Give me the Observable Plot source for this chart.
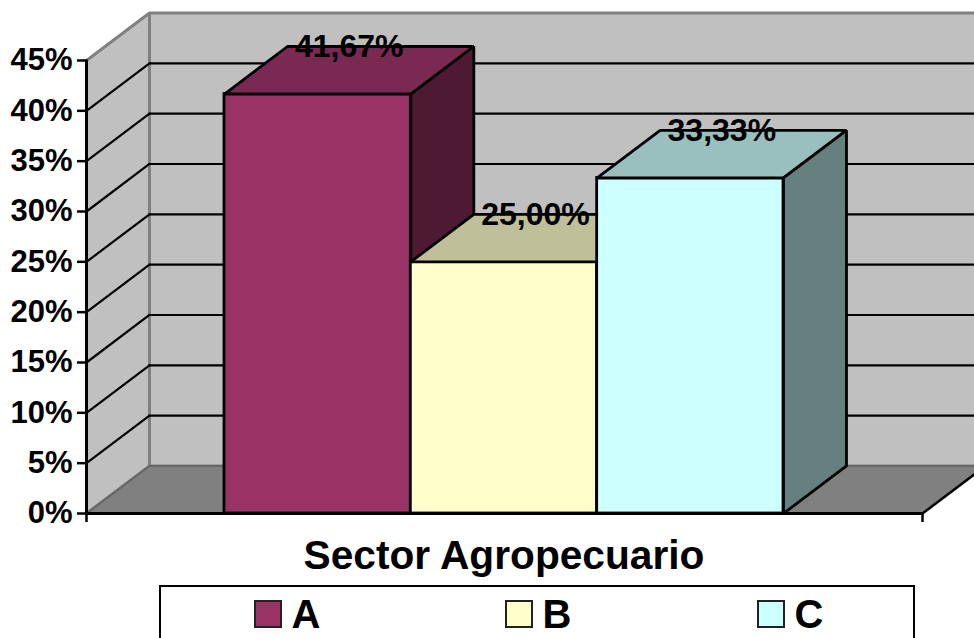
<!DOCTYPE html>
<html>
<head>
<meta charset="utf-8">
<script src="https://cdn.jsdelivr.net/npm/d3@7"></script>
<script src="https://cdn.jsdelivr.net/npm/@observablehq/plot@0.6"></script>
<style>
html,body{margin:0;padding:0;background:#fff;overflow:hidden}
body{width:974px;height:638px;position:relative;font-family:"Liberation Sans",Arial,sans-serif;font-weight:bold;color:#000}
#chart svg{display:block}
#title{position:absolute;left:0;width:1008px;top:531px;text-align:center;font-size:40.7px;line-height:48px}
#legend{position:absolute;left:159px;top:585px;width:752px;height:70px;border:2.5px solid #000;background:#fff}
.item{position:absolute;top:12.5px;display:flex;align-items:center;font-size:40px;line-height:28px;height:28px}
.sw{width:24px;height:24px;border:2px solid #222;margin-right:10px;box-sizing:content-box}
</style>
</head>
<body>
<div id="chart"></div>
<div id="title"></div>
<div id="legend"></div>
<script>
const series = ["A", "B", "C"];
const values = [41.67, 25.00, 33.33];
const valueLabels = ["41,67%", "25,00%", "33,33%"];
const frontColors = ["#993366", "#FFFFCC", "#CCFFFF"];
const topColors = ["#7A2952", "#BFBF99", "#99BFBF"];
const sideColors = ["#4D1933", "#808066", "#668080"];
const yTicks = [0, 5, 10, 15, 20, 25, 30, 35, 40, 45];
const chartTitle = "Sector Agropecuario";
const legendLeft = [92.5, 343.5, 595.5];

// Projection of the 3D depth and floor extent, in data units
const depthX = 0.338, depthY = 4.72;
const xLeft = -0.7406, xRight = 3.746, xEnd = 4.025, yTop = 45;

const poly = (pts, fill, stroke, strokeWidth) =>
  Plot.line(pts.map(([x, y]) => ({x, y})), {x: "x", y: "y", fill, stroke, strokeWidth, strokeLinejoin: "miter", clip: true});
const seg = (a, b, stroke, strokeWidth) =>
  Plot.line([{x: a[0], y: a[1]}, {x: b[0], y: b[1]}], {x: "x", y: "y", stroke, strokeWidth});

const marks = [];
// back wall
marks.push(poly([[xLeft + depthX, depthY], [xEnd + 1, depthY], [xEnd + 1, yTop + depthY], [xLeft + depthX, yTop + depthY], [xLeft + depthX, depthY]], "#C0C0C0", "#808080", 3));
// left wall
marks.push(poly([[xLeft, 0], [xLeft + depthX, depthY], [xLeft + depthX, yTop + depthY], [xLeft, yTop], [xLeft, 0]], "#C0C0C0", "#808080", 3));
// floor
marks.push(poly([[xLeft, 0], [xLeft + depthX, depthY], [xRight + depthX, depthY], [xRight, 0], [xLeft, 0]], "#808080", "none", 0));
marks.push(seg([xLeft, 0], [xLeft + depthX, depthY], "#666666", 2));
marks.push(Plot.line([{x: xLeft + depthX, y: depthY}, {x: xEnd, y: depthY}], {x: "x", y: "y", stroke: "#666666", strokeWidth: 2}));
// gridlines
for (const t of yTicks.slice(1, -1)) {
  marks.push(seg([xLeft, t], [xLeft + depthX, t + depthY], "#000", 2.2));
  marks.push(Plot.line([{x: xLeft + depthX, y: t + depthY}, {x: xEnd, y: t + depthY}], {x: "x", y: "y", stroke: "#000", strokeWidth: 2.2}));
}
marks.push(seg([xRight, 0], [xRight + depthX, depthY], "#000", 2.5));
// bars
series.forEach((s, i) => {
  const v = values[i];
  marks.push(Plot.rect([{s, v}], {x1: () => i, x2: () => i + 1, y1: () => 0, y2: "v", fill: frontColors[i], stroke: "#000", strokeWidth: 2.8}));
  marks.push(poly([[i, v], [i + depthX, v + depthY], [i + 1 + depthX, v + depthY], [i + 1, v], [i, v]], topColors[i], "#000", 2.8));
  marks.push(poly([[i + 1, 0], [i + 1 + depthX, depthY], [i + 1 + depthX, v + depthY], [i + 1, v], [i + 1, 0]], sideColors[i], "#000", 2.8));
});
// axis lines and ticks
marks.push(seg([xLeft, 0], [xLeft, yTop], "#000", 3));
marks.push(seg([xLeft, 0], [xRight, 0], "#000", 3));
marks.push(Plot.axisY(yTicks, {anchor: "left", tickSize: 9, tickPadding: 5, strokeWidth: 2.5, tickFormat: d => d + "%", label: null, fontSize: 31, fontWeight: "bold", fontFamily: "Liberation Sans"}));
marks.push(Plot.axisX([xLeft, xRight], {anchor: "bottom", tickSize: 9, strokeWidth: 2.5, tickFormat: () => "", label: null}));
// data labels
marks.push(Plot.text(series.map((s, i) => ({x: i + 0.5 + depthX / 2, y: values[i] + depthY, t: valueLabels[i]})), {
  x: "x", y: "y", text: "t", fontSize: 32, fontWeight: "bold", fontFamily: "Liberation Sans", fill: "#000", textAnchor: "middle", lineAnchor: "middle"
}));

const plot = Plot.plot({
  width: 974,
  height: 535,
  marginLeft: 86,
  marginRight: 0,
  marginTop: 0,
  marginBottom: 22,
  x: {type: "linear", domain: [xLeft, xEnd]},
  y: {type: "linear", domain: [0, 50.96]},
  style: {background: "transparent", overflow: "visible"},
  marks
});
document.getElementById("chart").append(plot);

document.getElementById("title").textContent = chartTitle;
const legend = document.getElementById("legend");
series.forEach((s, i) => {
  const item = document.createElement("div");
  item.className = "item";
  item.style.left = legendLeft[i] + "px";
  const sw = document.createElement("span");
  sw.className = "sw";
  sw.style.background = frontColors[i];
  item.append(sw, document.createTextNode(s));
  legend.append(item);
});
</script>
</body>
</html>
